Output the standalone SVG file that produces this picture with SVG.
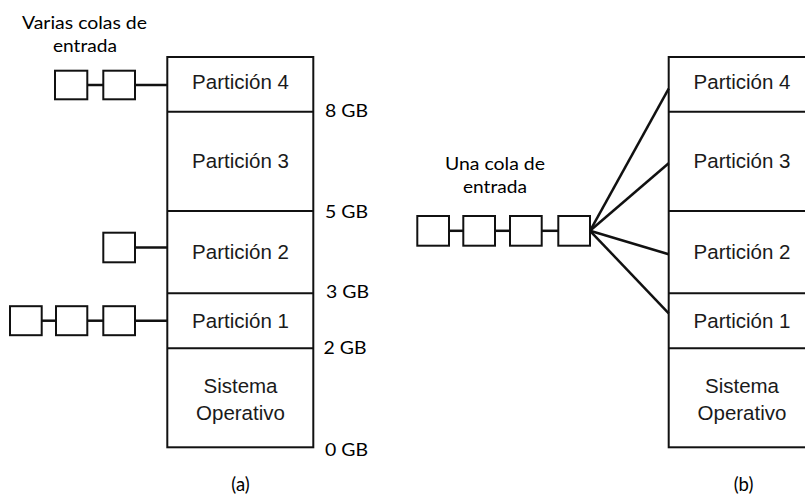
<svg xmlns="http://www.w3.org/2000/svg" width="805" height="497" viewBox="0 0 805 497">
  <style>
    .mem { fill: #fff; stroke: #111; stroke-width: 2; }
    .div { stroke: #111; stroke-width: 2; }
    .job { fill: #fff; stroke: #111; stroke-width: 2; }
    .link { stroke: #111; stroke-width: 2.5; fill: none; }
    .part { font-family: "Liberation Sans", Arial, sans-serif; font-size: 20.5px; fill: #1a1a1a; text-anchor: middle; }
    .lbl { font-family: Lato, "Open Sans", sans-serif; font-size: 17.5px; fill: #000; }
    .cap { font-family: Lato, "Open Sans", sans-serif; font-size: 17.5px; fill: #000; text-anchor: middle; }
  </style>

  <!-- (a) memory with one input queue per partition -->
  <g id="memory-a">
    <rect class="mem" x="167.3" y="57" width="146" height="390.3"/>
    <line class="div" x1="167.3" y1="111.7" x2="313.3" y2="111.7"/>
    <line class="div" x1="167.3" y1="211" x2="313.3" y2="211"/>
    <line class="div" x1="167.3" y1="293.3" x2="313.3" y2="293.3"/>
    <line class="div" x1="167.3" y1="348.3" x2="313.3" y2="348.3"/>
  </g>
  <g id="a-part4"><text class="part" x="240.5" y="89.3">Partición 4</text></g>
  <g id="a-part3"><text class="part" x="240.5" y="168.3">Partición 3</text></g>
  <g id="a-part2"><text class="part" x="240.5" y="258.5">Partición 2</text></g>
  <g id="a-part1"><text class="part" x="240.5" y="328.3">Partición 1</text></g>
  <g id="a-os">
    <text class="part" x="240.5" y="393.3">Sistema</text>
    <text class="part" x="240.5" y="419.5">Operativo</text>
  </g>

  <g id="a-addresses">
    <text class="lbl" x="325" y="116.7" textLength="43" lengthAdjust="spacingAndGlyphs">8 GB</text>
    <text class="lbl" x="325" y="218.3" textLength="43" lengthAdjust="spacingAndGlyphs">5 GB</text>
    <text class="lbl" x="326" y="298.3" textLength="43" lengthAdjust="spacingAndGlyphs">3 GB</text>
    <text class="lbl" x="323.5" y="354" textLength="43" lengthAdjust="spacingAndGlyphs">2 GB</text>
    <text class="lbl" x="325" y="455.7" textLength="43" lengthAdjust="spacingAndGlyphs">0 GB</text>
  </g>

  <g id="a-title">
    <text class="cap" x="84.5" y="29.3" textLength="125" lengthAdjust="spacingAndGlyphs">Varias colas de</text>
    <text class="cap" x="85" y="51.7" textLength="64" lengthAdjust="spacingAndGlyphs">entrada</text>
  </g>

  <!-- queue for partition 4 -->
  <g id="a-queue4">
    <rect class="job" x="55" y="70.7" width="32.3" height="28.6"/>
    <rect class="job" x="103.3" y="70.7" width="31.7" height="28.6"/>
  </g>
  <!-- queue for partition 2 -->
  <g id="a-queue2">
    <rect class="job" x="103.3" y="232.7" width="31.7" height="29.6"/>
  </g>
  <!-- queue for partition 1 -->
  <g id="a-queue1">
    <rect class="job" x="10" y="306.2" width="31.7" height="29"/>
    <rect class="job" x="56" y="306.2" width="31.3" height="29"/>
    <rect class="job" x="103.3" y="306.2" width="31.7" height="29"/>
  </g>

  <text class="cap" x="240.5" y="491" id="a-caption" style="font-size:18.5px">(a)</text>

  <!-- (b) memory with a single shared input queue -->
  <g id="memory-b">
    <rect class="mem" x="668.7" y="57" width="146" height="390.3"/>
    <line class="div" x1="668.7" y1="111.7" x2="814.7" y2="111.7"/>
    <line class="div" x1="668.7" y1="211" x2="814.7" y2="211"/>
    <line class="div" x1="668.7" y1="293.3" x2="814.7" y2="293.3"/>
    <line class="div" x1="668.7" y1="348.3" x2="814.7" y2="348.3"/>
  </g>
  <g id="b-part4"><text class="part" x="742" y="89.3">Partición 4</text></g>
  <g id="b-part3"><text class="part" x="742" y="168.3">Partición 3</text></g>
  <g id="b-part2"><text class="part" x="742" y="258.5">Partición 2</text></g>
  <g id="b-part1"><text class="part" x="742" y="328.3">Partición 1</text></g>
  <g id="b-os">
    <text class="part" x="742" y="393.3">Sistema</text>
    <text class="part" x="742" y="419.5">Operativo</text>
  </g>

  <g id="b-title">
    <text class="cap" x="495" y="170" textLength="100" lengthAdjust="spacingAndGlyphs">Una cola de</text>
    <text class="cap" x="495" y="193.3" textLength="64" lengthAdjust="spacingAndGlyphs">entrada</text>
  </g>

  <g id="b-queue">
    <rect class="job" x="417.3" y="216" width="31.7" height="29.7"/>
    <rect class="job" x="463.3" y="216" width="31.7" height="29.7"/>
    <rect class="job" x="510" y="216" width="31.7" height="29.7"/>
    <rect class="job" x="558.3" y="216" width="31.7" height="29.7"/>
  </g>

  <text class="cap" x="743.5" y="491" id="b-caption" style="font-size:18.5px">(b)</text>

  <!-- connectors -->
  <g id="connectors">
    <!-- (a) queue links -->
    <line class="link" x1="87.3" y1="85" x2="103.3" y2="85"/>
    <line class="link" x1="135" y1="85" x2="167.3" y2="85"/>
    <line class="link" x1="135" y1="247.5" x2="167.3" y2="247.5"/>
    <line class="link" x1="41.7" y1="320.7" x2="56" y2="320.7"/>
    <line class="link" x1="87.3" y1="320.7" x2="103.3" y2="320.7"/>
    <line class="link" x1="135" y1="320.7" x2="167.3" y2="320.7"/>
    <!-- (b) queue links and fan-out -->
    <line class="link" x1="449" y1="230.8" x2="463.3" y2="230.8"/>
    <line class="link" x1="495" y1="230.8" x2="510" y2="230.8"/>
    <line class="link" x1="541.7" y1="230.8" x2="558.3" y2="230.8"/>
    <line class="link" x1="590" y1="230.8" x2="668.7" y2="88.7"/>
    <line class="link" x1="590" y1="230.8" x2="668.7" y2="163.3"/>
    <line class="link" x1="590" y1="230.8" x2="668.7" y2="254.3"/>
    <line class="link" x1="590" y1="230.8" x2="668.7" y2="313.3"/>
  </g>
</svg>
